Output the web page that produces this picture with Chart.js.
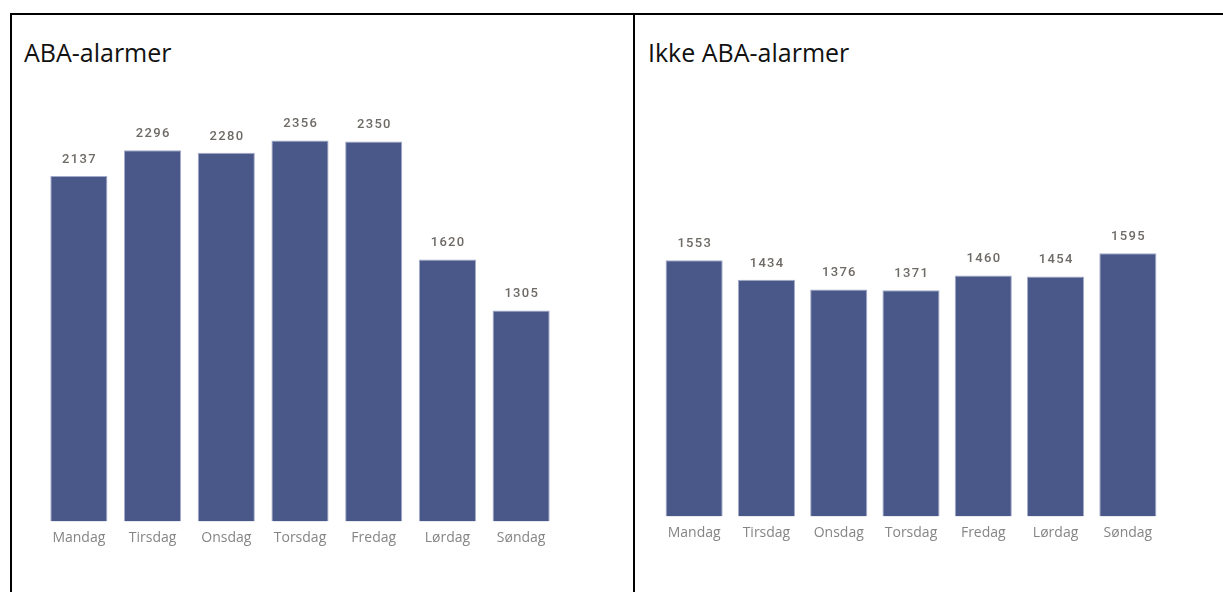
<!DOCTYPE html>
<html>
<head>
<meta charset="utf-8">
<script src="https://cdn.jsdelivr.net/npm/chart.js@4/dist/chart.umd.min.js"></script>
<style>
    body { margin: 0; background: #fff; width: 1223px; height: 592px; overflow: hidden; position: relative; }
    .line { position: absolute; background: #000; }
    .title { position: absolute; top: 35px; font-family: "Open Sans", sans-serif; font-size: 25px; color: #111; letter-spacing: 0px; }
    .box { position: absolute; top: 80px; height: 480px; }
</style>
</head>
<body>
<div class="line" style="left:10px; top:13px; width:1213px; height:2px;"></div>
<div class="line" style="left:10px; top:13px; width:2px; height:579px;"></div>
<div class="line" style="left:633px; top:13px; width:2px; height:579px;"></div>

<div class="title" style="left:24px;">ABA-alarmer</div>
<div class="title" style="left:648px;">Ikke ABA-alarmer</div>

<div class="box" style="left:42px; width:516px;"><canvas id="abaChart"></canvas></div>
<div class="box" style="left:658px; width:506px;"><canvas id="ikkeAbaChart"></canvas></div>

<script>
// ukedager og antall alarmer
const dager = ['Mandag', 'Tirsdag', 'Onsdag', 'Torsdag', 'Fredag', 'Lørdag', 'Søndag'];
const abaAlarmer = [2137, 2296, 2280, 2356, 2350, 1620, 1305];
const ikkeAbaAlarmer = [1553, 1434, 1376, 1371, 1460, 1454, 1595];

const barColor = 'rgb(74, 88, 137)';

// tall over hver stolpe
const verdiPlugin = {
    id: 'verdier',
    afterDatasetsDraw(chart) {
        const ctx = chart.ctx;
        const meta = chart.getDatasetMeta(0);
        ctx.save();
        ctx.font = '500 13px Roboto';
        ctx.fillStyle = '#6e6a66';
        ctx.textAlign = 'center';
        ctx.textBaseline = 'bottom';
        meta.data.forEach((bar, i) => {
            const value = chart.data.datasets[0].data[i];
            ctx.fillText(String(value).split('').join(String.fromCharCode(8202)), bar.x, bar.y - 10);
        });
        ctx.restore();
    }
};

function lagDiagram(id, data, yMax, axisHeight, barPct) {
    const ctx = document.getElementById(id).getContext('2d');
    return new Chart(ctx, {
        type: 'bar',
        data: {
            labels: dager,
            datasets: [{
                data: data,
                backgroundColor: barColor,
                borderColor: 'rgba(140, 150, 190, 0.8)',
                borderWidth: 1,
                barPercentage: barPct,
                categoryPercentage: 1
            }]
        },
        options: {
            responsive: true,
            maintainAspectRatio: false,
            animation: false,
            layout: { padding: 0 },
            plugins: { legend: { display: false }, tooltip: { enabled: false } },
            scales: {
                x: {
                    grid: { display: false, drawTicks: false },
                    border: { display: false },
                    ticks: {
                        color: '#858585',
                        font: { family: 'Open Sans', size: 14 },
                        padding: 8,
                        maxRotation: 0
                    },
                    afterFit: function (scale) {
                        scale.height = axisHeight;
                    }
                },
                y: {
                    display: false,
                    min: 0,
                    max: yMax
                }
            }
        },
        plugins: [verdiPlugin]
    });
}

lagDiagram('abaChart', abaAlarmer, 2730, 38.5, 0.775);
lagDiagram('ikkeAbaChart', ikkeAbaAlarmer, 2645, 43.5, 0.79);
</script>
</body>
</html>
